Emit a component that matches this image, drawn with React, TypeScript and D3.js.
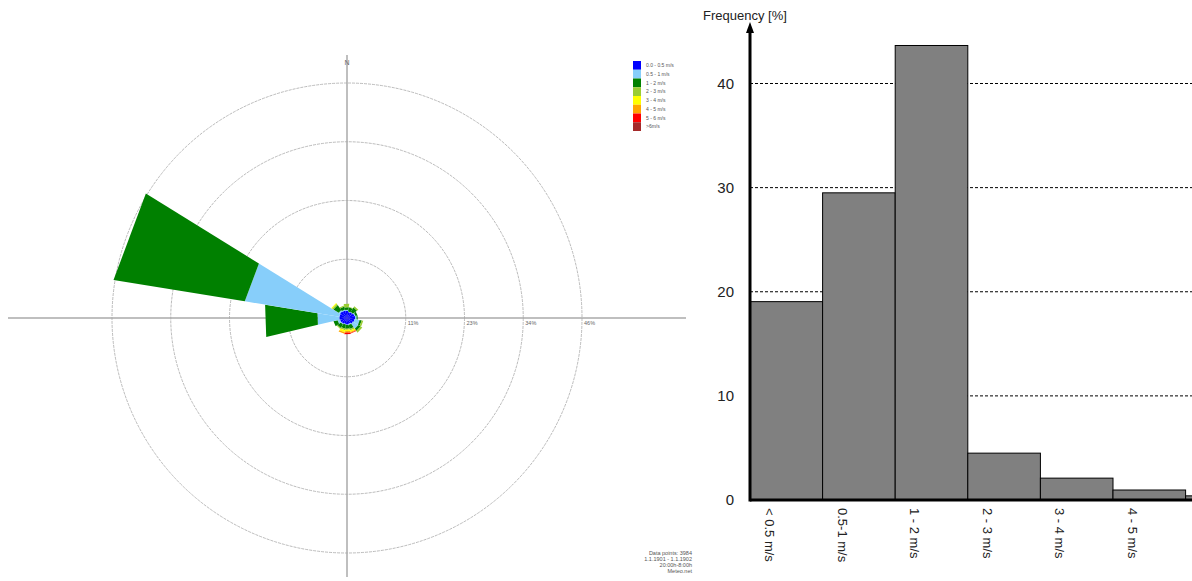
import { useMemo } from "react";
import * as d3 from "d3";

// wind rose: % per direction (N clockwise) per speed class
const directions = ["N", "NNE", "NE", "ENE", "E", "ESE", "SE", "SSE", "S", "SSW", "SW", "WSW", "W", "WNW", "NW", "NNW"];
const speedClasses = ["0.0 - 0.5 m/s", "0.5 - 1 m/s", "1 - 2 m/s", "2 - 3 m/s", "3 - 4 m/s", "4 - 5 m/s", "5 - 6 m/s", ">6m/s"];
const speedColors = ["#0000ff", "#87cefa", "#008000", "#9acd32", "#ffff00", "#ffa500", "#ff0000", "#a52a2a"];
const roseValues = [
  [1.4, 0.2, 0.5, 0.7, 0, 0, 0, 0],
  [1.2, 0.1, 0.8, 0.1, 0, 0, 0, 0],
  [1.3, 0.1, 1.0, 0.3, 0, 0, 0, 0],
  [1.5, 0.2, 0.4, 0, 0, 0, 0, 0],
  [1.6, 0.3, 0.2, 0, 0, 0, 0, 0],
  [1.5, 1.0, 0.4, 0.3, 0, 0, 0, 0],
  [1.4, 1.2, 0.5, 0.4, 0, 0, 0, 0],
  [1.2, 0.2, 0.8, 0.3, 0.3, 0.2, 0.1, 0],
  [1.3, 0.1, 0.7, 0.2, 0.3, 0.3, 0.3, 0],
  [1.2, 0.1, 0.8, 0.3, 0.4, 0.3, 0, 0],
  [1.3, 0.2, 0.8, 0.2, 0, 0, 0, 0],
  [1.4, 0.5, 0.8, 0, 0, 0, 0, 0],
  [1.5, 4.3, 10.3, 0, 0, 0, 0, 0],
  [1.5, 18.6, 25.8, 0, 0, 0, 0, 0],
  [1.6, 0.3, 1.2, 0.3, 0.2, 0, 0, 0],
  [1.5, 0.2, 0.6, 0.2, 0, 0, 0, 0],
];
const ringValues = [11.4, 22.8, 34.2, 45.6];
const infoLines = ["Data points: 3984", "1.1.1901 - 1.1.1902", "20:00h-8:00h", "Meteo.net"];

// histogram
const histCategories = ["< 0.5 m/s", "0.5-1 m/s", "1 - 2 m/s", "2 - 3 m/s", "3 - 4 m/s", "4 - 5 m/s", "5 - 6 m/s", "> 6 m/s"];
const histValues = [19.05, 29.5, 43.65, 4.5, 2.1, 0.96, 0.4, 0.1];
const histTicks = [0, 10, 20, 30, 40];

const W = 1192;
const H = 581;
const font = "'Liberation Sans', Arial, sans-serif";

function WindRose() {
  const cx = 347;
  const cy = 318;
  const r = d3.scaleLinear().domain([0, 45.6]).range([0, 235]);
  const step = (2 * Math.PI) / directions.length;
  const offset = (-2 * Math.PI) / 180; // sectors sit a little anticlockwise in the original
  const wedge = d3
    .lineRadial<[number, number]>()
    .angle((d) => d[0])
    .radius((d) => r(d[1]))
    .curve(d3.curveLinearClosed);

  const segs = useMemo(() => {
    const out: { d: string; color: string }[] = [];
    roseValues.forEach((vals, i) => {
      const a0 = i * step - step / 2 + offset;
      const a1 = i * step + step / 2 + offset;
      let acc = 0;
      vals.forEach((v, k) => {
        if (v <= 0) return;
        const v0 = acc;
        acc += v;
        const pts: [number, number][] =
          v0 === 0
            ? [[0, 0], [a0, acc], [a1, acc]]
            : [[a0, v0], [a1, v0], [a1, acc], [a0, acc]];
        out.push({ d: wedge(pts) || "", color: speedColors[k] });
      });
    });
    return out;
  }, []);

  return (
    <g>
      <line x1={8} x2={686} y1={cy} y2={cy} stroke="#aaa" strokeWidth={1.5} />
      <line x1={cx} x2={cx} y1={55} y2={577} stroke="#aaa" strokeWidth={1.5} />
      {ringValues.map((v) => (
        <g key={v}>
          <circle cx={cx} cy={cy} r={r(v)} fill="none" stroke="#aaa" strokeWidth={0.8} strokeDasharray="3 1" />
          <text x={cx + r(v) + 2} y={cy + 7} fontSize={5.5} fill="#666" fontFamily={font}>
            {Math.round(v)}%
          </text>
        </g>
      ))}
      <g transform={`translate(${cx},${cy})`}>
        {segs.map((s, i) => (
          <path key={i} d={s.d} fill={s.color} />
        ))}
      </g>
      <text x={cx} y={65} fontSize={7} fill="#666" textAnchor="middle" fontFamily={font}>N</text>
      {speedClasses.map((s, i) => (
        <g key={s}>
          <rect x={633} y={61 + i * 8.75} width={8} height={8.75} fill={speedColors[i]} />
          <text x={646} y={61 + i * 8.75 + 6} fontSize={5} fill="#555" fontFamily={font}>{s}</text>
        </g>
      ))}
      {infoLines.map((t, i) => (
        <text key={t} x={692} y={555 + i * 6} fontSize={5.5} fill="#555" textAnchor="end" fontFamily={font}>{t}</text>
      ))}
    </g>
  );
}

function Histogram() {
  const x0 = 750;
  const y0 = 500;
  const x = d3.scaleBand<string>().domain(histCategories).range([x0, x0 + 72.6 * histCategories.length]).padding(0);
  const y = d3.scaleLinear().domain([0, 40]).range([y0, 83.5]);

  return (
    <g fontFamily={font}>
      {histTicks.filter((t) => t > 0).map((t) => (
        <line key={t} x1={x0} x2={W} y1={y(t)} y2={y(t)} stroke="#000" strokeDasharray="3 2" strokeWidth={1} />
      ))}
      {histCategories.map((c, i) => (
        <rect key={c} x={x(c)} y={y(histValues[i])} width={x.bandwidth()} height={y0 - y(histValues[i])} fill="#808080" stroke="#000" strokeWidth={1} />
      ))}
      <line x1={x0} x2={W} y1={y0} y2={y0} stroke="#000" strokeWidth={3} />
      <line x1={x0} x2={x0} y1={y0 + 1.5} y2={30} stroke="#000" strokeWidth={3} />
      <path d={`M${x0 - 4},${33} L${x0},${22} L${x0 + 4},${33} Z`} fill="#000" />
      {histTicks.map((t) => (
        <text key={t} x={734} y={y(t) + 5} fontSize={15} textAnchor="end" fill="#222">{t}</text>
      ))}
      {histCategories
        .filter((c) => (x(c) || 0) + 15 < W - 10)
        .map((c) => (
          <text key={c} transform={`translate(${(x(c) || 0) + 15},${508}) rotate(90)`} fontSize={13} fill="#222">{c}</text>
        ))}
      <text x={703} y={20} fontSize={13} fill="#222">Frequency [%]</text>
    </g>
  );
}

export default function App() {
  return (
    <svg width={W} height={H} style={{ position: "absolute", left: 0, top: 0, background: "#fff" }}>
      <WindRose />
      <Histogram />
    </svg>
  );
}
